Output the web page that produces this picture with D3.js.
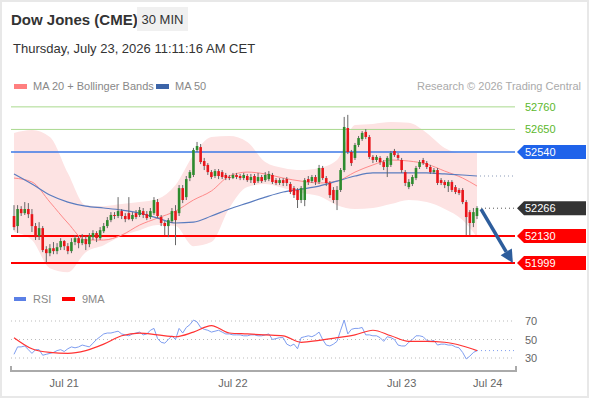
<!DOCTYPE html>
<html>
<head>
<meta charset="utf-8">
<script src="https://cdn.jsdelivr.net/npm/d3@7"></script>
<style>
body { margin: 0; background: #fff; }
text { font-family: "Liberation Sans", Arial, sans-serif; }
</style>
</head>
<body>
<svg id="chart" width="590" height="400"></svg>
<script>
// 30 min candles, [open, high, low, close]
var candles = [
 [52228,52281,52159,52174],[52179,52281,52145,52262],[52262,52276,52228,52242],[52242,52296,52233,52262],
 [52262,52291,52218,52237],[52237,52262,52150,52179],[52179,52194,52111,52125],[52130,52198,52111,52169],
 [52169,52179,52052,52062],[52066,52081,52003,52047],[52047,52091,52032,52071],[52071,52101,52042,52057],
 [52057,52096,52042,52076],[52076,52120,52062,52106],[52106,52111,52062,52081],[52081,52096,52042,52057],
 [52057,52120,52047,52101],[52101,52135,52086,52120],[52120,52130,52071,52096],[52096,52140,52086,52115],
 [52115,52130,52062,52091],[52091,52145,52076,52130],[52125,52159,52111,52145],[52145,52154,52101,52120],
 [52120,52174,52111,52159],[52154,52194,52145,52179],[52179,52223,52169,52208],[52208,52247,52198,52233],
 [52233,52247,52213,52228],[52228,52320,52218,52252],[52252,52262,52213,52228],[52228,52242,52198,52213],
 [52242,52320,52208,52213],[52213,52247,52203,52233],[52242,52257,52213,52223],[52233,52272,52223,52257],
 [52252,52267,52218,52233],[52237,52252,52208,52218],[52223,52267,52213,52252],[52242,52320,52233,52306],
 [52296,52311,52218,52228],[52223,52233,52179,52194],[52194,52203,52135,52179],[52179,52218,52125,52208],
 [52203,52267,52194,52252],[52252,52281,52086,52208],[52242,52379,52228,52364],[52364,52379,52291,52306],
 [52320,52423,52306,52408],[52413,52452,52398,52442],[52428,52560,52418,52550],[52550,52589,52540,52569],
 [52564,52579,52481,52491],[52496,52511,52452,52472],[52477,52486,52428,52442],[52442,52452,52408,52418],
 [52423,52457,52413,52447],[52447,52457,52408,52423],[52442,52452,52408,52418],[52428,52438,52403,52413],
 [52418,52428,52403,52413],[52413,52438,52408,52428],[52428,52438,52408,52418],[52423,52433,52403,52413],
 [52413,52438,52403,52428],[52423,52433,52394,52403],[52403,52433,52389,52418],[52423,52433,52379,52389],
 [52398,52438,52389,52418],[52418,52428,52389,52398],[52403,52442,52394,52428],[52408,52447,52398,52433],
 [52428,52438,52384,52394],[52403,52413,52379,52389],[52389,52413,52379,52403],[52403,52413,52374,52389],
 [52408,52418,52374,52389],[52384,52394,52335,52345],[52364,52374,52316,52330],[52355,52364,52267,52306],
 [52306,52374,52291,52364],[52306,52413,52276,52403],[52408,52423,52379,52394],[52398,52428,52389,52418],
 [52418,52428,52379,52394],[52394,52477,52384,52462],[52462,52472,52403,52413],[52413,52423,52374,52389],
 [52389,52398,52316,52330],[52355,52369,52291,52306],[52306,52374,52257,52355],[52355,52462,52345,52452],
 [52452,52711,52442,52662],[52657,52721,52530,52540],[52540,52550,52472,52486],[52511,52584,52501,52574],
 [52574,52618,52564,52608],[52603,52642,52594,52633],[52638,52652,52603,52613],[52613,52623,52506,52516],
 [52516,52525,52486,52501],[52501,52525,52491,52516],[52511,52520,52477,52491],[52491,52501,52452,52467],
 [52467,52520,52418,52511],[52477,52545,52467,52535],[52545,52555,52516,52525],[52525,52535,52501,52511],
 [52501,52511,52438,52452],[52442,52452,52374,52389],[52369,52408,52359,52394],[52384,52428,52374,52418],
 [52413,52472,52403,52462],[52467,52501,52457,52491],[52501,52511,52477,52486],[52486,52496,52457,52467],
 [52467,52477,52433,52442],[52442,52462,52433,52452],[52452,52462,52379,52389],[52403,52413,52379,52389],
 [52394,52403,52364,52379],[52374,52403,52345,52394],[52394,52403,52345,52355],[52369,52379,52335,52345],
 [52355,52364,52330,52340],[52355,52364,52286,52296],[52296,52306,52135,52223],[52247,52257,52135,52194],
 [52194,52267,52174,52247],[52228,52276,52213,52267]
];

// indicator lines read every 5 candles
var sampleIdx = [0,5,10,15,20,25,30,35,40,45,50,55,60,65,70,75,80,85,90,95,100,105,110,115,120,125,129];
var bbUpper = [52633,52647,52613,52438,52281,52276,52286,52296,52311,52379,52525,52613,52618,52589,52491,52462,52452,52462,52501,52672,52677,52686,52682,52633,52560,52535,52535];
var bbLower = [52150,52111,51974,51954,52052,52086,52130,52159,52184,52179,52081,52101,52267,52369,52384,52364,52340,52325,52281,52262,52267,52286,52306,52296,52262,52208,52125];
var ma20 = [52413,52394,52296,52194,52111,52111,52135,52184,52218,52252,52306,52350,52423,52442,52433,52413,52398,52389,52398,52442,52477,52501,52496,52481,52447,52413,52374];
var ma50 = [52433,52384,52330,52296,52276,52267,52257,52242,52218,52194,52198,52228,52262,52291,52320,52345,52359,52374,52398,52423,52438,52438,52438,52438,52433,52428,52423];

var rsi = [34,42,42,43,39,35,39,39,33,34,35,36,38,39,37,40,42,41,42,44,
 43,42,46,50,53,56,57,57,58,59,56,55,54,56,57,58,55,56,60,62,
 51,47,46,50,54,50,62,57,63,66,71,69,63,61,60,58,59,60,58,56,
 56,55,55,55,54,54,55,55,54,54,55,56,50,51,52,52,45,43,45,40,
 52,53,54,53,55,58,50,44,43,45,48,60,71,56,61,62,62,63,55,55,
 54,54,52,48,53,52,50,44,43,43,47,50,54,54,53,49,48,49,44,45,
 45,44,44,42,41,36,29,32,36,38];
var rsiMa = [52,40,36,35,38,45,54,57,55,53,58,65,57,56,55,54,47,49,52,55,60,54,48,48,47,43,38];

var levels = [52760, 52650, 52540, 52266, 52130, 51999];
var levelKinds = ["res", "res", "pivot", "last", "sup", "sup"];
var lastPrice = 52266;
var targetPrice = 51999;
var rsiTicks = [70, 50, 30];
var dateTicks = [14, 61, 108, 132];
var dateLabels = ["Jul 21", "Jul 22", "Jul 23", "Jul 24"];

var svg = d3.select("#chart");
var x = d3.scaleLinear().domain([0, 129]).range([14, 477]);
var y = d3.scaleLinear().domain([51999, 52540]).range([263, 152]);
var yr = d3.scaleLinear().domain([30, 70]).range([358, 321]);
var plotL = 11, plotR = 515;

// frame
svg.append("rect").attr("x", 1).attr("y", 1).attr("width", 587).attr("height", 396)
    .attr("fill", "none").attr("stroke", "#e8e8e8").attr("stroke-width", 2);

// header
svg.append("text").attr("x", 11).attr("y", 25).attr("font-size", 15).attr("font-weight", "bold")
    .attr("fill", "#333").text("Dow Jones (CME)");
svg.append("rect").attr("x", 137).attr("y", 7).attr("width", 51).attr("height", 24).attr("fill", "#f0f0f0");
svg.append("text").attr("x", 162.5).attr("y", 24).attr("font-size", 13).attr("text-anchor", "middle")
    .attr("fill", "#333").text("30 MIN");
svg.append("text").attr("x", 13).attr("y", 53).attr("font-size", 13).attr("fill", "#333")
    .text("Thursday, July 23, 2026 11:11:16 AM CET");

// legend
svg.append("rect").attr("x", 14).attr("y", 84).attr("width", 13).attr("height", 5).attr("fill", "#ff7f7f");
svg.append("text").attr("x", 33).attr("y", 90).attr("font-size", 11).attr("fill", "#888").text("MA 20 + Bollinger Bands");
svg.append("rect").attr("x", 156).attr("y", 84).attr("width", 13).attr("height", 5).attr("fill", "#3c64a8");
svg.append("text").attr("x", 175).attr("y", 90).attr("font-size", 11).attr("fill", "#888").text("MA 50");
svg.append("text").attr("x", 581).attr("y", 90).attr("font-size", 11).attr("fill", "#aaa")
    .attr("text-anchor", "end").text("Research \u00a9 2026 Trading Central");

// bollinger band
var band = d3.area()
    .x(function(d, i) { return x(sampleIdx[i]); })
    .y0(function(d, i) { return y(bbLower[i]); })
    .y1(function(d, i) { return y(bbUpper[i]); })
    .curve(d3.curveMonotoneX);
svg.append("path").datum(sampleIdx).attr("d", band).attr("fill", "#fde3e3");

// level lines
var levelColor = { res: "#a9d98e", pivot: "#3b78e7", last: "#555", sup: "#ff0000" };
levels.forEach(function(v, i) {
    var k = levelKinds[i];
    var ln = svg.append("line").attr("y1", y(v)).attr("y2", y(v)).attr("x2", plotR)
        .attr("stroke", levelColor[k]);
    if (k == "last") {
        ln.attr("x1", x(129) + 4).attr("stroke-dasharray", "1,3").attr("stroke-width", 1);
    } else {
        ln.attr("x1", plotL).attr("stroke-width", k == "sup" ? 2 : (k == "pivot" ? 1.5 : 1));
    }
});

// moving averages
function sampleLine(vals) {
    return d3.line()
        .x(function(d, i) { return x(sampleIdx[i]); })
        .y(function(d) { return y(d); })
        .curve(d3.curveMonotoneX)(vals);
}
svg.append("path").attr("d", sampleLine(ma20)).attr("fill", "none").attr("stroke", "#ff8a8a").attr("stroke-width", 1);
svg.append("path").attr("d", sampleLine(ma50)).attr("fill", "none").attr("stroke", "#5a7cbf").attr("stroke-width", 1.2);
svg.append("line").attr("x1", x(129) + 3).attr("x2", plotR)
    .attr("y1", y(ma50[ma50.length - 1])).attr("y2", y(ma50[ma50.length - 1]))
    .attr("stroke", "#8a9ab8").attr("stroke-dasharray", "1,3");

// candles
var cg = svg.append("g");
cg.selectAll("line").data(candles).enter().append("line")
    .attr("x1", function(d, i) { return x(i); })
    .attr("x2", function(d, i) { return x(i); })
    .attr("y1", function(d) { return y(d[1]); })
    .attr("y2", function(d) { return y(d[2]); })
    .attr("stroke", "#666").attr("stroke-width", 1);
cg.selectAll("rect").data(candles).enter().append("rect")
    .attr("x", function(d, i) { return x(i) - 1.3; })
    .attr("width", 2.6)
    .attr("y", function(d) { return y(Math.max(d[0], d[3])); })
    .attr("height", function(d) { return Math.max(1, Math.abs(y(d[0]) - y(d[3]))); })
    .attr("fill", function(d) { return d[3] >= d[0] ? "#2e8b2e" : "#e8161b"; });

// target arrow
var ax1 = x(129) + 4, ay1 = y(lastPrice) + 1;
var ax2 = x(139), ay2 = y(targetPrice);
var ang = Math.atan2(ay2 - ay1, ax2 - ax1);
var headL = 13, headW = 6.5;
var bx = ax2 - headL * Math.cos(ang), by = ay2 - headL * Math.sin(ang);
svg.append("line").attr("x1", ax1).attr("y1", ay1).attr("x2", bx).attr("y2", by)
    .attr("stroke", "#2d5d9c").attr("stroke-width", 3.5);
svg.append("path")
    .attr("d", "M" + ax2 + "," + ay2 +
        "L" + (bx + headW * Math.sin(ang)) + "," + (by - headW * Math.cos(ang)) +
        "L" + (bx - headW * Math.sin(ang)) + "," + (by + headW * Math.cos(ang)) + "Z")
    .attr("fill", "#2d5d9c");

// right price tags
var tagFill = { pivot: "#1f63ea", last: "#333", sup: "#ff0000" };
levels.forEach(function(v, i) {
    var k = levelKinds[i];
    var cy = y(v);
    if (k == "res") {
        svg.append("text").attr("x", 525).attr("y", cy + 4).attr("font-size", 11)
            .attr("fill", "#5cb82c").text(v);
    } else {
        svg.append("path")
            .attr("d", "M517," + cy + "L524," + (cy - 7) + "L586," + (cy - 7) + "L586," + (cy + 7) + "L524," + (cy + 7) + "Z")
            .attr("fill", tagFill[k]);
        svg.append("text").attr("x", 525).attr("y", cy + 4).attr("font-size", 11)
            .attr("fill", "#fff").text(v);
    }
});

// RSI panel
svg.append("rect").attr("x", 14).attr("y", 297).attr("width", 12).attr("height", 4).attr("fill", "#5b80e6");
svg.append("text").attr("x", 33).attr("y", 303).attr("font-size", 11).attr("fill", "#888").text("RSI");
svg.append("rect").attr("x", 62).attr("y", 297).attr("width", 13).attr("height", 4).attr("fill", "#ff0000");
svg.append("text").attr("x", 82).attr("y", 303).attr("font-size", 11).attr("fill", "#888").text("9MA");

rsiTicks.forEach(function(t) {
    svg.append("line").attr("x1", plotL).attr("x2", plotR).attr("y1", yr(t)).attr("y2", yr(t))
        .attr("stroke", "#bbb").attr("stroke-dasharray", "1,3");
    svg.append("text").attr("x", 525).attr("y", yr(t) + 4).attr("font-size", 11).attr("fill", "#666").text(t);
});

var rsiLine = d3.line().x(function(d, i) { return x(i); }).y(function(d) { return yr(d); });
svg.append("path").attr("d", rsiLine(rsi)).attr("fill", "none").attr("stroke", "#7e9df0").attr("stroke-width", 1);
svg.append("line").attr("x1", x(129)).attr("x2", plotR)
    .attr("y1", yr(rsi[rsi.length - 1])).attr("y2", yr(rsi[rsi.length - 1]))
    .attr("stroke", "#7e9df0").attr("stroke-dasharray", "1,3");
var rsiMaLine = d3.line()
    .x(function(d, i) { return x(sampleIdx[i]); })
    .y(function(d) { return yr(d); })
    .curve(d3.curveMonotoneX);
svg.append("path").attr("d", rsiMaLine(rsiMa)).attr("fill", "none").attr("stroke", "#f33").attr("stroke-width", 1.2);

// time axis
var xa = svg.append("g").attr("transform", "translate(0,371)");
xa.append("path").attr("d", "M" + plotL + ",-5V0H516V-5").attr("fill", "none").attr("stroke", "#aaa").attr("stroke-width", 2);
xa.selectAll("text").data(dateTicks).enter().append("text")
    .attr("x", function(d) { return x(d); }).attr("y", 16)
    .attr("text-anchor", "middle").attr("font-size", 11).attr("fill", "#666")
    .text(function(d, i) { return dateLabels[i]; });
</script>
</body>
</html>
